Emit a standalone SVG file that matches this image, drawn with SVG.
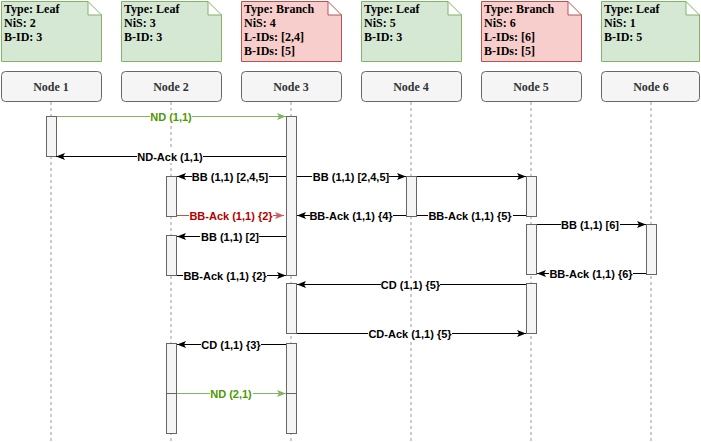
<svg xmlns="http://www.w3.org/2000/svg" width="701" height="442" viewBox="0 0 701 442">
<style>
.note-g{fill:#d5e8d4;stroke:#82b366;stroke-width:1}
.note-r{fill:#f8cecc;stroke:#b85450;stroke-width:1}
.nt{font-family:"Liberation Serif","Times New Roman",serif;font-weight:bold;font-size:12px;fill:#000}
.box{fill:#f5f5f5;stroke:#666;stroke-width:1}
.bt{font-family:"Liberation Serif","Times New Roman",serif;font-weight:bold;font-size:12px;fill:#333;text-anchor:middle}
.life{stroke:#999;stroke-width:1;stroke-dasharray:3,3;fill:none}
.bar{fill:#f5f5f5;stroke:#666;stroke-width:1}
.m{stroke:#000;stroke-width:1;fill:none}
.mg{stroke:#82b366;stroke-width:1;fill:none}
.mr{stroke:#b85450;stroke-width:1;fill:none}
.lb{fill:#fff;stroke:none}
.lt{font-family:"Liberation Sans",Arial,sans-serif;font-weight:bold;font-size:11px;text-anchor:middle;fill:#000}
.ltg{fill:#4d9900}
.ltr{fill:#b20000}
</style>
<defs>
<marker id="a" markerWidth="10" markerHeight="8" refX="9" refY="4" orient="auto" markerUnits="userSpaceOnUse"><path d="M0,0.5 L9,4 L0,7.5 L2,4 z" fill="#000"/></marker>
<marker id="ag" markerWidth="10" markerHeight="8" refX="9" refY="4" orient="auto" markerUnits="userSpaceOnUse"><path d="M0,0.5 L9,4 L0,7.5 L2,4 z" fill="#82b366"/></marker>
<marker id="ar" markerWidth="10" markerHeight="8" refX="9" refY="4" orient="auto" markerUnits="userSpaceOnUse"><path d="M0,0.5 L9,4 L0,7.5 L2,4 z" fill="#d06060"/></marker>
</defs>

<g id="node1">
<path class="note-g" d="M1.5,1.5 H88 L101.5,15 V61.5 H1.5 Z M88,1.5 V15 H101.5"/>
<text class="nt" x="4" y="13">Type: Leaf</text>
<text class="nt" x="4" y="27">NiS: 2</text>
<text class="nt" x="4" y="41">B-ID: 3</text>
<rect class="box" x="1.5" y="71.5" width="100" height="30" rx="4"/>
<text class="bt" x="51" y="90.5">Node 1</text>
<line class="life" x1="51" y1="102" x2="51" y2="442"/>
<rect class="bar" x="46.5" y="116.5" width="10" height="40"/>
</g>

<g id="node2">
<path class="note-g" d="M121.5,1.5 H208 L221.5,15 V61.5 H121.5 Z M208,1.5 V15 H221.5"/>
<text class="nt" x="124" y="13">Type: Leaf</text>
<text class="nt" x="124" y="27">NiS: 3</text>
<text class="nt" x="124" y="41">B-ID: 3</text>
<rect class="box" x="121.5" y="71.5" width="100" height="30" rx="4"/>
<text class="bt" x="171" y="90.5">Node 2</text>
<line class="life" x1="171" y1="102" x2="171" y2="442"/>
<rect class="bar" x="166.5" y="176.5" width="10" height="40"/>
<rect class="bar" x="166.5" y="235.5" width="10" height="40"/>
<rect class="bar" x="166.5" y="343.5" width="10" height="50"/>
<rect class="bar" x="166.5" y="393.5" width="10" height="40"/>
</g>

<g id="node3">
<path class="note-r" d="M241.5,1.5 H328 L341.5,15 V61.5 H241.5 Z M328,1.5 V15 H341.5"/>
<text class="nt" x="244" y="13">Type: Branch</text>
<text class="nt" x="244" y="27">NiS: 4</text>
<text class="nt" x="244" y="41">L-IDs: [2,4]</text>
<text class="nt" x="244" y="55">B-IDs: [5]</text>
<rect class="box" x="241.5" y="71.5" width="100" height="30" rx="4"/>
<text class="bt" x="291" y="90.5">Node 3</text>
<line class="life" x1="291" y1="102" x2="291" y2="442"/>
<rect class="bar" x="286.5" y="116.5" width="10" height="159"/>
<rect class="bar" x="286.5" y="283.5" width="10" height="50"/>
<rect class="bar" x="286.5" y="343.5" width="10" height="50"/>
<rect class="bar" x="286.5" y="393.5" width="10" height="40"/>
</g>

<g id="node4">
<path class="note-g" d="M361.5,1.5 H448 L461.5,15 V61.5 H361.5 Z M448,1.5 V15 H461.5"/>
<text class="nt" x="364" y="13">Type: Leaf</text>
<text class="nt" x="364" y="27">NiS: 5</text>
<text class="nt" x="364" y="41">B-ID: 3</text>
<rect class="box" x="361.5" y="71.5" width="100" height="30" rx="4"/>
<text class="bt" x="411" y="90.5">Node 4</text>
<line class="life" x1="411" y1="102" x2="411" y2="442"/>
<rect class="bar" x="406.5" y="176.5" width="10" height="40"/>
</g>

<g id="node5">
<path class="note-r" d="M481.5,1.5 H568 L581.5,15 V61.5 H481.5 Z M568,1.5 V15 H581.5"/>
<text class="nt" x="484" y="13">Type: Branch</text>
<text class="nt" x="484" y="27">NiS: 6</text>
<text class="nt" x="484" y="41">L-IDs: [6]</text>
<text class="nt" x="484" y="55">B-IDs: [5]</text>
<rect class="box" x="481.5" y="71.5" width="100" height="30" rx="4"/>
<text class="bt" x="531" y="90.5">Node 5</text>
<line class="life" x1="531" y1="102" x2="531" y2="442"/>
<rect class="bar" x="526.5" y="176.5" width="10" height="40"/>
<rect class="bar" x="526.5" y="224.5" width="10" height="50"/>
<rect class="bar" x="526.5" y="283.5" width="10" height="50"/>
</g>

<g id="node6">
<path class="note-g" d="M601.5,1.5 H686 L699.5,15 V61.5 H601.5 Z M686,1.5 V15 H699.5"/>
<text class="nt" x="604" y="13">Type: Leaf</text>
<text class="nt" x="604" y="27">NiS: 1</text>
<text class="nt" x="604" y="41">B-ID: 5</text>
<rect class="box" x="601.5" y="71.5" width="98" height="30" rx="4"/>
<text class="bt" x="651" y="90.5">Node 6</text>
<line class="life" x1="651" y1="102" x2="651" y2="442"/>
<rect class="bar" x="646.5" y="224.5" width="10" height="50"/>
</g>

<g id="connectors">
<line class="mg" x1="57" y1="116.5" x2="286" y2="116.5" marker-end="url(#ag)"/>
<line class="m" x1="286" y1="156.5" x2="56" y2="156.5" marker-end="url(#a)"/>
<line class="m" x1="286" y1="176.5" x2="177" y2="176.5" marker-end="url(#a)"/>
<line class="m" x1="297" y1="176.5" x2="406" y2="176.5" marker-end="url(#a)"/>
<line class="m" x1="417" y1="176.5" x2="526" y2="176.5" marker-end="url(#a)"/>
<line class="mr" x1="177" y1="215.5" x2="284" y2="215.5" marker-end="url(#ar)"/>
<line class="m" x1="406" y1="215.5" x2="297" y2="215.5" marker-end="url(#a)"/>
<line class="m" x1="526" y1="215.5" x2="417" y2="215.5"/>
<line class="m" x1="286" y1="236.5" x2="177" y2="236.5" marker-end="url(#a)"/>
<line class="m" x1="537" y1="224.5" x2="646" y2="224.5" marker-end="url(#a)"/>
<line class="m" x1="177" y1="275.5" x2="286" y2="275.5" marker-end="url(#a)"/>
<line class="m" x1="646" y1="273.5" x2="537" y2="273.5" marker-end="url(#a)"/>
<line class="m" x1="526" y1="284.5" x2="297" y2="284.5" marker-end="url(#a)"/>
<line class="m" x1="297" y1="333.5" x2="526" y2="333.5" marker-end="url(#a)"/>
<line class="m" x1="286" y1="344.5" x2="177" y2="344.5" marker-end="url(#a)"/>
<line class="mg" x1="177" y1="393.5" x2="286" y2="393.5" marker-end="url(#ag)"/>

<rect class="lb" x="150" y="110" width="42" height="13"/>
<text class="lt ltg" x="171" y="120.5">ND (1,1)</text>
<rect class="lb" x="137" y="150" width="66" height="13"/>
<text class="lt" x="170" y="160.5">ND-Ack (1,1)</text>
<rect class="lb" x="192" y="170" width="77" height="13"/>
<text class="lt" x="230" y="180.5">BB (1,1) [2,4,5]</text>
<rect class="lb" x="312" y="170" width="77" height="13"/>
<text class="lt" x="351" y="180.5">BB (1,1) [2,4,5]</text>
<rect class="lb" x="189" y="209" width="84" height="13"/>
<text class="lt ltr" x="231" y="219.5">BB-Ack (1,1) {2}</text>
<rect class="lb" x="310" y="209" width="83" height="13"/>
<text class="lt" x="351" y="219.5">BB-Ack (1,1) {4}</text>
<rect class="lb" x="428" y="209" width="85" height="13"/>
<text class="lt" x="470" y="219.5">BB-Ack (1,1) {5}</text>
<rect class="lb" x="200" y="230" width="59" height="13"/>
<text class="lt" x="230" y="240.5">BB (1,1) [2]</text>
<rect class="lb" x="561" y="218" width="59" height="13"/>
<text class="lt" x="590" y="228.5">BB (1,1) [6]</text>
<rect class="lb" x="183" y="269" width="84" height="13"/>
<text class="lt" x="225" y="279.5">BB-Ack (1,1) {2}</text>
<rect class="lb" x="549" y="267" width="84" height="13"/>
<text class="lt" x="591" y="277.5">BB-Ack (1,1) {6}</text>
<rect class="lb" x="381" y="278" width="59" height="13"/>
<text class="lt" x="410.5" y="288.5">CD (1,1) {5}</text>
<rect class="lb" x="368" y="327" width="84" height="13"/>
<text class="lt" x="410" y="337.5">CD-Ack (1,1) {5}</text>
<rect class="lb" x="201" y="338" width="60" height="13"/>
<text class="lt" x="231" y="348.5">CD (1,1) {3}</text>
<rect class="lb" x="210" y="387" width="43" height="13"/>
<text class="lt ltg" x="231" y="397.5">ND (2,1)</text>
</g>
</svg>
